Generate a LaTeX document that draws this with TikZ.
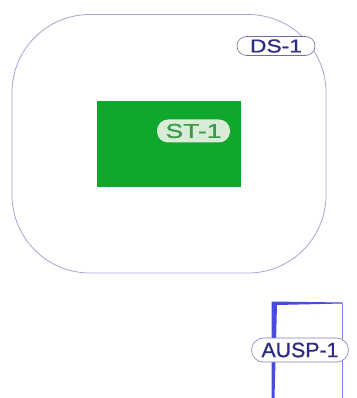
\documentclass[tikz,border=0pt]{standalone}
\usepackage{fontspec}
\setmainfont{Liberation Sans}
\newfontfamily\lblfont[FakeBold=0.8]{Liberation Sans}
\newcommand{\lbltext}[3]{\resizebox{#1}{#2}{\lblfont #3}}
\begin{document}
\begin{tikzpicture}[x=1pt,y=-1pt,
  pill/.style={inner sep=0pt},
  dsline/.style={draw=lav, line width=0.8pt}]
\definecolor{lav}{HTML}{A4A4D4}
\definecolor{stgreen}{HTML}{10A82C}
\definecolor{stlabel}{HTML}{D8ECD8}
\definecolor{sttext}{HTML}{3A9A4A}
\definecolor{dstext}{HTML}{2C2C84}
\definecolor{auspblue}{HTML}{4A4AE0}
\useasboundingbox (0,0) rectangle (356,398);
% DS-1 boundary
\draw[dsline, rounded corners=78pt] (12,14.5) rectangle (326,273);
% ST-1 block
\node[fill=stgreen, minimum width=144pt, minimum height=86pt, inner sep=0pt, anchor=north west] (st) at (97,101) {};
\node[pill, rounded corners=11pt, fill=stlabel, text=sttext, minimum width=73pt, minimum height=23pt] (stl) at (193.5,131) {\lbltext{56pt}{14pt}{ST-1}};
\node[pill, rounded corners=9.5pt, draw=dstext!70, line width=0.6pt, fill=white, text=dstext, minimum width=78pt, minimum height=19pt] (dsl) at (276,46) {\lbltext{52pt}{13pt}{DS-1}};
% AUSP-1
\node[coordinate] (atl) at (273,302) {};
\node[coordinate] (atr) at (342,303) {};
\node[coordinate] (abl) at (273,398) {};
\node[coordinate] (abr) at (342,398) {};
\fill[auspblue] (271.5,301.5) -- (342.5,302.5) -- (342.5,303.5) -- (277,305) -- (274.5,398) -- (271.5,398) -- cycle;
\draw[auspblue!70, line width=0.8pt] (atr) -- (abr);
\draw[auspblue, line width=1.8pt] (atl) -- (abl);
\node[pill, rounded corners=12pt, draw=dstext!60, line width=0.6pt, fill=white, text=dstext, minimum width=97pt, minimum height=24pt] (al) at (300,350) {\lbltext{77pt}{14.5pt}{AUSP-1}};
\end{tikzpicture}
\end{document}
